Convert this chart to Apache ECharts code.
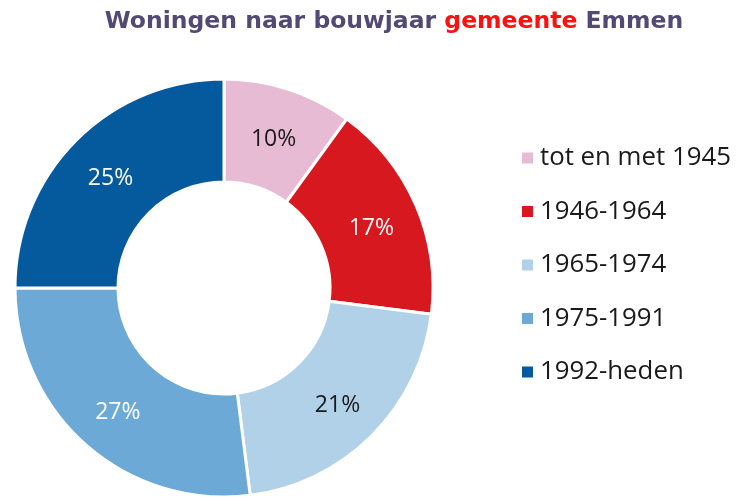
<!DOCTYPE html>
<html>
<head>
<meta charset="utf-8">
<script src="https://cdn.jsdelivr.net/npm/echarts@6/dist/echarts.min.js"></script>
<style>
  html, body { margin: 0; padding: 0; background: #fff; }
  #chart { width: 736px; height: 497px; }
</style>
</head>
<body>
<div id="chart"></div>
<script>
const categories = ["tot en met 1945", "1946-1964", "1965-1974", "1975-1991", "1992-heden"];
const shares = [10, 17, 21, 27, 25];
const colors = ["#e6bbd3", "#d7181f", "#b1d1e9", "#6ca9d6", "#055a9e"];
const labelColors = ["#1a1a1a", "#ffffff", "#1a1a1a", "#ffffff", "#ffffff"];

const chart = echarts.init(document.getElementById("chart"), null, { renderer: "canvas" });

chart.setOption({
  animation: false,
  backgroundColor: "#fff",
  title: {
    text: "{a|Woningen naar bouwjaar }{b|gemeente}{a| Emmen}",
    left: 389,
    textAlign: "center",
    top: 5,
    textStyle: {
      rich: {
        a: { fontFamily: "DejaVu Sans", fontWeight: "bold", fontSize: 23.5, color: "#524a75" },
        b: { fontFamily: "DejaVu Sans", fontWeight: "bold", fontSize: 23.5, color: "#ff1010" },
      },
    },
  },
  legend: {
    orient: "vertical",
    left: 520,
    top: 145,
    padding: 0,
    itemWidth: 13,
    itemHeight: 13,
    itemGap: 27.5,
    icon: "rect",
    textStyle: {
      fontFamily: "Open Sans", fontSize: 25.8, lineHeight: 24,
      color: "#1a1a1a", padding: [0, 0, 0, 1],
    },
    data: categories,
  },
  series: [
    {
      type: "pie",
      center: [224, 288],
      radius: [106, 209],
      startAngle: 90,
      clockwise: true,
      avoidLabelOverlap: false,
      itemStyle: { borderColor: "#fff", borderWidth: 3 },
      label: {
        show: true,
        position: "inside",
        formatter: "{c}%",
        fontFamily: "Open Sans",
        fontSize: 23,
        offset: [0, 4],
      },
      labelLine: { show: false },
      data: categories.map((name, i) => ({
        name,
        value: shares[i],
        itemStyle: { color: colors[i] },
        label: { color: labelColors[i] },
      })),
    },
  ],
});
</script>
</body>
</html>
